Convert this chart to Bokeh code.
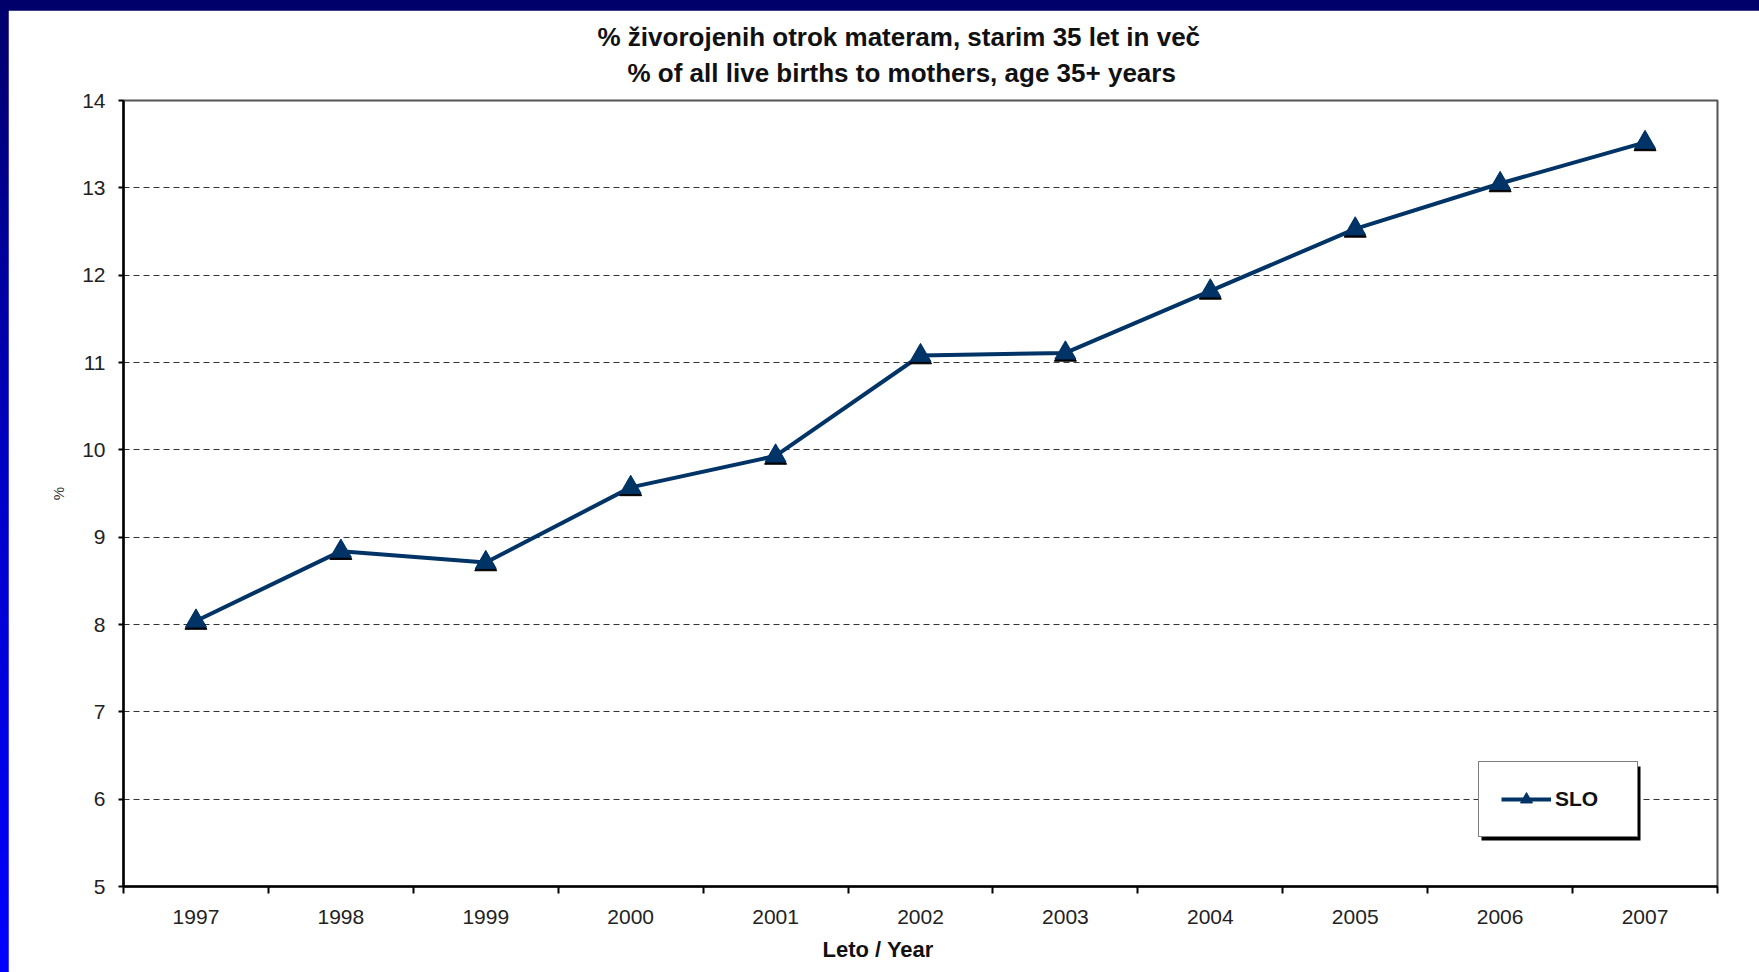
from bokeh.plotting import figure
from bokeh.models import (Range1d, FixedTicker, Title, Legend, LegendItem,
                          BoxAnnotation, ColumnDataSource, GlobalInlineStyleSheet)
from bokeh.transform import dodge
from bokeh.embed import file_html
from bokeh.resources import INLINE

# ---- data ----
years = [1997, 1998, 1999, 2000, 2001, 2002, 2003, 2004, 2005, 2006, 2007]
year_labels = ["1997", "1998", "1999", "2000", "2001", "2002", "2003", "2004", "2005", "2006", "2007"]
slo_pct = [8.04, 8.84, 8.71, 9.57, 9.93, 11.08, 11.11, 11.82, 12.53, 13.05, 13.52]
y_ticks = [5, 6, 7, 8, 9, 10, 11, 12, 13, 14]
series_name = "SLO"
title_line1 = "% živorojenih otrok materam, starim 35 let in več"
title_line2 = "% of all live births to mothers, age 35+ years"
x_title = "Leto / Year"
y_title = "%"

FONT = "Liberation Sans"
LINE_COL = "#003366"

src = ColumnDataSource(dict(x=years, y=slo_pct))

p = figure(width=1751, height=962, output_backend="svg", toolbar_location=None,
           x_range=Range1d(years[0] - 0.5, years[-1] + 0.5),
           y_range=Range1d(y_ticks[0], y_ticks[-1]),
           min_border_left=115, min_border_right=42,
           min_border_top=90, min_border_bottom=86)

p.stylesheets = [GlobalInlineStyleSheet(
    css="html, body { background: linear-gradient(to bottom, #00006a 0%, #0000c8 50%, #0000ff 100%); }"
        " body { padding: 10px 0 0 8px; }")]

p.background_fill_color = "white"
p.border_fill_color = "white"
p.outline_line_color = "#555555"
p.outline_line_width = 2

# titles (closest-to-plot first); left-aligned with offsets so they sit where the original has them
p.add_layout(Title(text=title_line2, align="left", offset=504,
                   text_font=FONT, text_font_size="26px",
                   text_font_style="bold", text_color="#111111", standoff=25), "above")
p.add_layout(Title(text=title_line1, align="left", offset=474,
                   text_font=FONT, text_font_size="26px",
                   text_font_style="bold", text_color="#111111", standoff=-16), "above")

# x axis
xa = p.xaxis[0]
boundaries = [y - 0.5 for y in years] + [years[-1] + 0.5]
xa.ticker = FixedTicker(ticks=years, minor_ticks=boundaries)
xa.major_label_overrides = {y: lab for y, lab in zip(years, year_labels)}
xa.major_tick_out = 0
xa.major_tick_in = 0
xa.minor_tick_out = 7
xa.minor_tick_in = 0
xa.minor_tick_line_color = "black"
xa.minor_tick_line_width = 2
xa.axis_line_color = "black"
xa.axis_line_width = 2.5
xa.major_label_text_font = FONT
xa.major_label_text_font_size = "21px"
xa.major_label_text_color = "#222222"
xa.major_label_standoff = 16

# x-axis title
p.add_layout(Title(text=x_title, align="left", offset=699,
                   text_font=FONT, text_font_size="22px",
                   text_font_style="bold", text_color="#111111", standoff=17), "below")

# y axis
ya = p.yaxis[0]
ya.ticker = FixedTicker(ticks=y_ticks)
ya.major_tick_out = 5
ya.major_tick_in = 0
ya.major_tick_line_color = "black"
ya.major_tick_line_width = 2
ya.minor_tick_out = 0
ya.minor_tick_in = 0
ya.axis_line_color = "black"
ya.axis_line_width = 2.5
ya.major_label_text_font = FONT
ya.major_label_text_font_size = "21px"
ya.major_label_text_color = "#222222"
ya.major_label_standoff = 13
ya.axis_label = y_title
ya.axis_label_text_font = FONT
ya.axis_label_text_font_size = "15px"
ya.axis_label_text_font_style = "normal"
ya.axis_label_text_color = "#333333"
ya.axis_label_standoff = 12

# grid
p.xgrid.grid_line_color = None
p.ygrid.ticker = FixedTicker(ticks=y_ticks)
p.ygrid.grid_line_color = "#333333"
p.ygrid.grid_line_width = 1.2
p.ygrid.grid_line_dash = "6 4"

# series
line_r = p.line("x", "y", source=src, line_color=LINE_COL, line_width=4)
p.scatter(x="x", y=dodge("y", -0.022, range=p.y_range), source=src, marker="triangle",
          size=22, fill_color="black", line_color="black")
tri_r = p.scatter("x", "y", source=src, marker="triangle", size=21,
                  fill_color=LINE_COL, line_color=LINE_COL)

# legend shadow + legend
shadow = BoxAnnotation(left=1358, right=1517, bottom=46, top=120,
                       left_units="screen", right_units="screen",
                       bottom_units="screen", top_units="screen",
                       fill_color="black", fill_alpha=1.0, line_color=None)
p.add_layout(shadow)

legend = Legend(items=[LegendItem(label=series_name, renderers=[line_r, tri_r])],
                location=(1355, 49), margin=0, padding=22,
                glyph_width=50, glyph_height=30, label_width=60, label_standoff=4,
                label_height=30,
                label_text_font=FONT, label_text_font_size="21px",
                label_text_font_style="bold", label_text_color="#111111",
                border_line_color="black", border_line_width=1.5,
                background_fill_color="white", background_fill_alpha=1.0)
p.add_layout(legend, "center")

open("out.html", "w").write(file_html(p, INLINE))
